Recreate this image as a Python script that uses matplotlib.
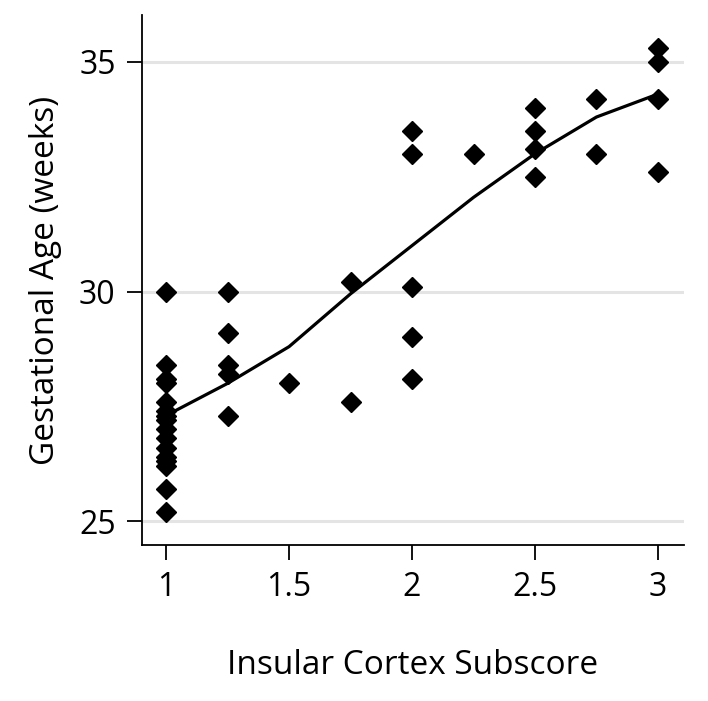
import matplotlib
matplotlib.use("Agg")
import matplotlib.pyplot as plt
import numpy as np

plt.rcParams['font.family'] = ['Open Sans', 'DejaVu Sans']

# Daten
subscore = [1] * 16 + [1.25] * 5 + [1.5] + [1.75] * 2 + [2] * 5 + [2.25] + [2.5] * 4 + [2.75] * 2 + [3] * 4
ga_weeks = [30.0, 28.4, 28.1, 28.0, 27.6, 27.4, 27.3, 27.2, 27.0, 26.8, 26.6, 26.4, 26.3, 26.2, 25.7, 25.2,
            30.0, 29.1, 28.4, 28.2, 27.3,
            28.0,
            30.2, 27.6,
            33.5, 33.0, 30.1, 29.0, 28.1,
            33.0,
            34.0, 33.5, 33.1, 32.5,
            34.2, 33.0,
            35.3, 35.0, 34.2, 32.6]

# geglättete Kurve
fit_x = [1, 1.25, 1.5, 1.75, 2, 2.25, 2.5, 2.75, 3]
fit_y = [27.3, 28.0, 28.8, 29.95, 31.0, 32.05, 33.0, 33.8, 34.3]

yticks = [25, 30, 35]
xticks = [1, 1.5, 2, 2.5, 3]
xtick_labels = ["1", "1.5", "2", "2.5", "3"]

fig = plt.figure(figsize=(7.08, 7.01), dpi=100)
ax = fig.add_axes([0.2006, 0.2225, 0.7655, 0.756])

for y in yticks:
    ax.axhline(y, color="#e4e4e4", linewidth=2.2, zorder=0)

ax.plot(fit_x, fit_y, color="black", linewidth=2.3, zorder=2)
ax.plot(subscore, ga_weeks, linestyle="none", marker="D", markersize=10.5,
        color="black", zorder=3)

ax.set_xlim(0.902, 3.106)
ax.set_ylim(24.48, 36.02)
ax.set_xticks(xticks)
ax.set_xticklabels(xtick_labels)
ax.set_yticks(yticks)

ax.spines["top"].set_visible(False)
ax.spines["right"].set_visible(False)
ax.spines["left"].set_linewidth(1.3)
ax.spines["bottom"].set_linewidth(1.3)
ax.tick_params(axis="both", length=11, width=1.3, labelsize=23, pad=8)

ax.set_xlabel("Insular Cortex Subscore", fontsize=24, labelpad=32)
ax.set_ylabel("Gestational Age (weeks)", fontsize=24, labelpad=12)

plt.savefig("out.png", dpi=100)
